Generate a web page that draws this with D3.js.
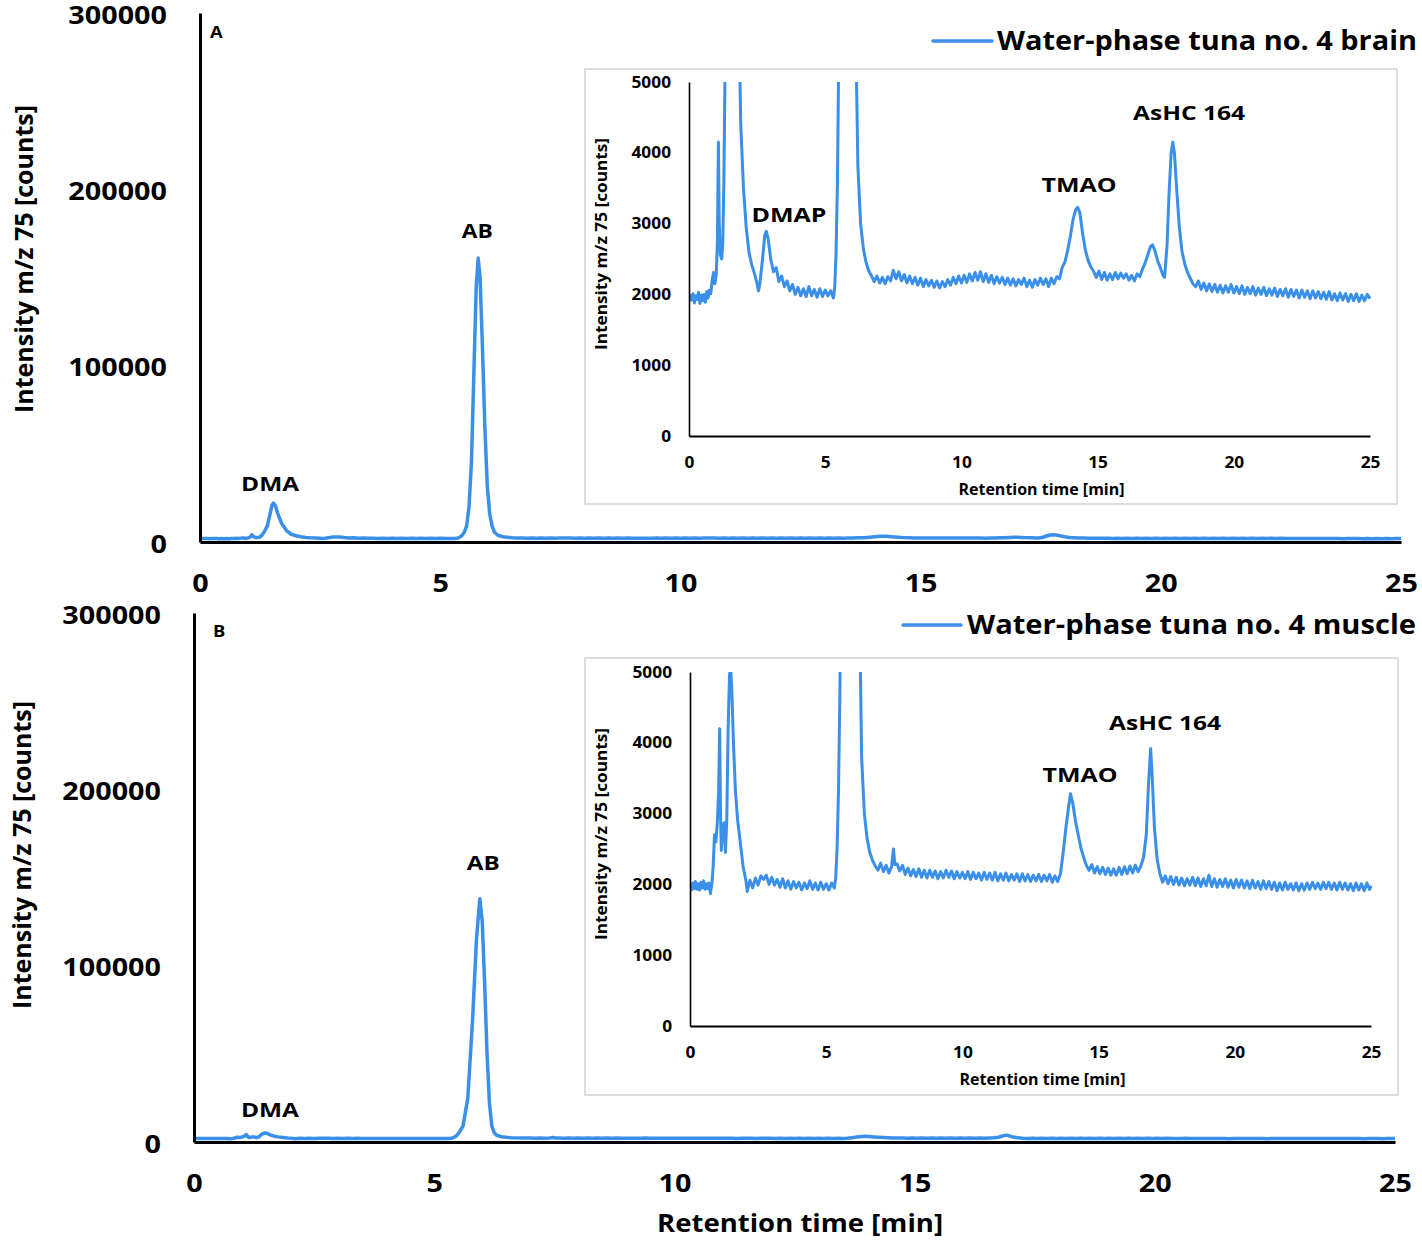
<!DOCTYPE html>
<html><head><meta charset="utf-8">
<script src="https://cdn.jsdelivr.net/npm/d3@7"></script>
<style>
body{margin:0;background:#fff}
svg{display:block}
text{font-family:'Open Sans',sans-serif;font-weight:700;fill:#000}
</style>
</head><body>
<svg id="chart" width="1422" height="1241"></svg>
<script>
// ---------- DATA (retention time [min], intensity m/z 75 [counts]) ----------
const brainTrace = [[0.00,1900],[0.05,1990],[0.10,1920],[0.15,2010],[0.20,1880],[0.25,1980],[0.30,1930],[0.35,2030],[0.40,1870],[0.45,1990],[0.50,1910],[0.55,2000],[0.60,1890],[0.65,2040],[0.70,1950],[0.75,2060],[0.80,2010],[0.85,2200],[0.90,2310],[0.95,2150],[1.00,2280],[1.04,2700],[1.08,4150],[1.11,3000],[1.15,2560],[1.20,2500],[1.24,2720],[1.28,3600],[1.33,5400],[1.40,9000],[1.45,15000],[1.50,21000],[1.53,22000],[1.57,20500],[1.62,16000],[1.70,10500],[1.80,6500],[1.90,4400],[2.00,3500],[2.10,2950],[2.20,2600],[2.30,2420],[2.40,2300],[2.50,2150],[2.55,2050],[2.60,2150],[2.70,2500],[2.78,2830],[2.84,2890],[2.90,2800],[3.00,2500],[3.10,2320],[3.20,2380],[3.30,2180],[3.40,2260],[3.50,2110],[3.60,2190],[3.70,2050],[3.80,2140],[3.90,2000],[4.00,2100],[4.10,1980],[4.20,2080],[4.30,1970],[4.40,2110],[4.50,1980],[4.60,2070],[4.70,1960],[4.80,2080],[4.90,1970],[5.00,2060],[5.10,1980],[5.20,2050],[5.30,1950],[5.35,2100],[5.40,2600],[5.45,3600],[5.50,5500],[5.55,9000],[5.60,20000],[5.65,45000],[5.70,95000],[5.75,145000],[5.79,161000],[5.83,150000],[5.88,110000],[5.93,65000],[5.98,32000],[6.03,16000],[6.08,9000],[6.13,5500],[6.20,3800],[6.30,3000],[6.40,2650],[6.50,2450],[6.60,2330],[6.70,2260],[6.80,2180],[6.90,2260],[7.00,2160],[7.10,2240],[7.20,2150],[7.30,2250],[7.40,2190],[7.50,2340],[7.60,2220],[7.70,2320],[7.80,2190],[7.90,2280],[8.00,2160],[8.10,2260],[8.20,2150],[8.30,2240],[8.40,2130],[8.50,2230],[8.60,2110],[8.70,2210],[8.80,2120],[8.90,2200],[9.00,2100],[9.10,2190],[9.20,2090],[9.30,2180],[9.40,2110],[9.50,2210],[9.60,2130],[9.70,2240],[9.80,2150],[9.90,2260],[10.00,2160],[10.10,2270],[10.20,2170],[10.30,2290],[10.40,2190],[10.50,2310],[10.60,2200],[10.70,2320],[10.80,2180],[10.90,2290],[11.00,2170],[11.10,2270],[11.20,2150],[11.30,2250],[11.40,2160],[11.50,2240],[11.60,2140],[11.70,2230],[11.80,2130],[11.90,2220],[12.00,2120],[12.10,2210],[12.20,2140],[12.30,2230],[12.40,2110],[12.50,2200],[12.60,2100],[12.70,2210],[12.80,2130],[12.90,2230],[13.00,2140],[13.10,2220],[13.20,2110],[13.30,2230],[13.40,2150],[13.50,2250],[13.60,2220],[13.70,2380],[13.80,2460],[13.90,2620],[14.00,2820],[14.10,3060],[14.20,3200],[14.27,3230],[14.35,3150],[14.45,2860],[14.55,2630],[14.65,2480],[14.75,2390],[14.85,2330],[14.95,2240],[15.05,2330],[15.15,2210],[15.25,2310],[15.35,2200],[15.45,2290],[15.55,2210],[15.65,2310],[15.75,2220],[15.85,2300],[15.95,2230],[16.05,2290],[16.15,2200],[16.25,2270],[16.35,2190],[16.45,2290],[16.55,2250],[16.65,2360],[16.75,2450],[16.85,2570],[16.95,2680],[17.02,2700],[17.10,2620],[17.20,2480],[17.30,2380],[17.40,2270],[17.46,2240],[17.55,2700],[17.62,3400],[17.70,4000],[17.76,4150],[17.82,4000],[17.90,3500],[18.00,2950],[18.10,2600],[18.20,2430],[18.30,2310],[18.40,2230],[18.50,2150],[18.60,2110],[18.70,2190],[18.80,2070],[18.90,2160],[19.00,2050],[19.10,2150],[19.20,2040],[19.30,2140],[19.40,2030],[19.50,2130],[19.60,2020],[19.70,2120],[19.80,2030],[19.90,2140],[20.00,2020],[20.10,2110],[20.20,2010],[20.30,2120],[20.40,2000],[20.50,2100],[20.60,2010],[20.70,2110],[20.80,1990],[20.90,2090],[21.00,2000],[21.10,2100],[21.20,1980],[21.30,2080],[21.40,1990],[21.50,2090],[21.60,1970],[21.70,2070],[21.80,1980],[21.90,2080],[22.00,1960],[22.10,2070],[22.20,1970],[22.30,2060],[22.40,1950],[22.50,2060],[22.60,1960],[22.70,2050],[22.80,1940],[22.90,2050],[23.00,1950],[23.10,2040],[23.20,1940],[23.30,2030],[23.40,1930],[23.50,2040],[23.60,1920],[23.70,2010],[23.80,1910],[23.90,2020],[24.00,1920],[24.10,2010],[24.20,1900],[24.30,2000],[24.40,1910],[24.50,2010],[24.60,1900],[24.70,1990],[24.80,1910],[24.90,2000],[25.00,1940]];

const muscleTrace = [[0.00,1980],[0.05,1920],[0.10,2020],[0.15,1940],[0.20,2040],[0.25,1930],[0.30,2010],[0.35,1920],[0.40,2030],[0.45,1950],[0.50,2050],[0.55,1930],[0.60,2010],[0.65,1940],[0.70,2020],[0.75,1870],[0.80,2000],[0.85,2250],[0.90,2700],[0.95,2600],[1.00,2850],[1.05,3300],[1.09,4200],[1.12,3000],[1.15,2480],[1.20,2800],[1.25,2870],[1.30,2450],[1.35,2900],[1.40,4200],[1.45,4950],[1.49,5080],[1.53,4800],[1.60,3950],[1.67,3300],[1.75,2900],[1.85,2580],[1.95,2250],[2.05,2060],[2.10,1900],[2.20,2060],[2.30,1950],[2.40,2090],[2.50,1990],[2.60,2120],[2.70,2070],[2.80,2130],[2.90,2000],[3.00,2100],[3.10,1990],[3.20,2070],[3.30,1960],[3.40,2080],[3.50,1950],[3.60,2050],[3.70,1930],[3.80,2040],[3.90,1950],[4.00,2030],[4.10,1920],[4.20,2020],[4.30,1940],[4.40,2050],[4.50,1930],[4.60,2020],[4.70,1920],[4.80,2030],[4.90,1930],[5.00,2010],[5.10,1920],[5.20,2020],[5.30,1950],[5.35,2100],[5.40,2500],[5.45,3300],[5.50,4600],[5.60,9000],[5.70,25000],[5.80,70000],[5.88,115000],[5.95,138000],[6.00,125000],[6.05,90000],[6.10,50000],[6.15,22000],[6.20,9000],[6.25,5200],[6.30,3800],[6.40,3000],[6.50,2650],[6.60,2450],[6.70,2340],[6.80,2260],[6.90,2200],[7.00,2300],[7.10,2180],[7.20,2270],[7.30,2160],[7.40,2250],[7.47,2500],[7.52,2280],[7.60,2290],[7.70,2190],[7.80,2270],[7.90,2140],[8.00,2230],[8.10,2120],[8.20,2210],[8.30,2110],[8.40,2220],[8.50,2100],[8.60,2200],[8.70,2090],[8.80,2200],[8.90,2100],[9.00,2190],[9.10,2080],[9.20,2180],[9.30,2090],[9.40,2200],[9.50,2100],[9.60,2190],[9.70,2080],[9.80,2180],[9.90,2090],[10.00,2170],[10.10,2080],[10.20,2180],[10.30,2070],[10.40,2170],[10.50,2080],[10.60,2160],[10.70,2060],[10.80,2170],[10.90,2070],[11.00,2160],[11.10,2060],[11.20,2170],[11.30,2050],[11.40,2150],[11.50,2060],[11.60,2160],[11.70,2050],[11.80,2140],[11.90,2060],[12.00,2150],[12.10,2040],[12.20,2150],[12.30,2050],[12.40,2140],[12.50,2040],[12.60,2130],[12.70,2050],[12.80,2140],[12.90,2040],[13.00,2130],[13.10,2050],[13.20,2140],[13.30,2030],[13.40,2120],[13.50,2040],[13.60,2150],[13.70,2450],[13.80,2800],[13.90,3100],[13.97,3280],[14.05,3150],[14.15,2900],[14.25,2700],[14.35,2520],[14.45,2380],[14.55,2270],[14.65,2200],[14.75,2280],[14.85,2160],[14.95,2250],[15.05,2150],[15.15,2240],[15.25,2140],[15.35,2230],[15.45,2130],[15.55,2220],[15.65,2130],[15.75,2240],[15.85,2140],[15.95,2250],[16.05,2150],[16.15,2260],[16.25,2160],[16.35,2270],[16.45,2180],[16.55,2260],[16.65,2380],[16.75,2700],[16.83,3400],[16.91,3920],[16.97,3500],[17.05,2800],[17.15,2350],[17.25,2150],[17.35,2030],[17.45,2120],[17.55,2010],[17.65,2110],[17.75,2000],[17.85,2100],[17.95,1990],[18.05,2090],[18.15,1980],[18.25,2080],[18.35,1990],[18.45,2100],[18.55,1980],[18.65,2090],[18.75,1970],[18.85,2080],[18.95,1980],[19.05,2130],[19.15,1970],[19.25,2080],[19.35,1960],[19.45,2070],[19.55,1970],[19.65,2080],[19.75,1960],[19.85,2060],[19.95,1950],[20.05,2070],[20.15,1960],[20.25,2060],[20.35,1950],[20.45,2050],[20.55,1940],[20.65,2060],[20.75,1950],[20.85,2040],[20.95,1930],[21.05,2050],[21.15,1940],[21.25,2040],[21.35,1930],[21.45,2030],[21.55,1910],[21.65,2020],[21.75,1920],[21.85,2030],[21.95,1930],[22.05,2010],[22.15,1920],[22.25,2020],[22.35,1910],[22.45,2010],[22.55,1920],[22.65,2020],[22.75,1930],[22.85,2030],[22.95,1940],[23.05,2020],[23.15,1930],[23.25,2030],[23.35,1940],[23.45,2030],[23.55,1930],[23.65,2020],[23.75,1920],[23.85,2030],[23.95,1930],[24.05,2020],[24.15,1920],[24.25,2010],[24.35,1910],[24.45,2020],[24.55,1920],[24.65,2010],[24.75,1910],[24.85,2020],[24.95,1930],[25.00,1980]];

const timeTicks = [0, 5, 10, 15, 20, 25];
const mainCountTicks = [0, 100000, 200000, 300000];
const insetCountTicks = [0, 1000, 2000, 3000, 4000, 5000];
const legendLabels = ["Water-phase tuna no. 4 brain", "Water-phase tuna no. 4 muscle"];
const panelLetters = ["A", "B"];
// peak annotations: [label, time, counts] (anchor of label text)
const mainPeaksA = [["DMA", 1.46, 28900], ["AB", 5.77, 172400]];
const insetPeaksA = [["DMAP", 3.67, 3023], ["TMAO", 14.32, 3446], ["AsHC 164", 18.36, 4463]];
const mainPeaksB = [["DMA", 1.58, 14200], ["AB", 6.02, 154300]];
const insetPeaksB = [["TMAO", 14.32, 3446], ["AsHC 164", 17.44, 4181]];
const yTitle = "Intensity m/z 75 [counts]";
const xTitle = "Retention time [min]";

// ---------- LAYOUT ----------
const BLUE = "#3a8fe8";
const STRETCH = 1.15;
const svg = d3.select("#chart");

function label(g, x, y, s, size, anchor, width, rot) {
  const t = g.append("text")
    .attr("text-anchor", anchor)
    .style("font-size", size + "px")
    .text(s);
  if (rot) t.attr("transform", `translate(${x},${y}) rotate(-90)`);
  else t.attr("x", x).attr("y", y);
  const nat = t.node().getComputedTextLength();
  const w = width || nat * STRETCH;
  t.attr("textLength", w).attr("lengthAdjust", "spacingAndGlyphs");
  return t;
}
function stretchTicks(sel, factor) {
  sel.selectAll(".tick text").each(function () {
    const n = this.getComputedTextLength();
    d3.select(this).attr("textLength", n * factor).attr("lengthAdjust", "spacingAndGlyphs");
  });
}

const panels = [
  { trace: brainTrace, legend: legendLabels[0], letter: panelLetters[0],
    x0: 200, x1: 1401, yTop: 13, yBot: 542, yTitleX: 33, yTitleY: 259,
    legLine: [933, 992, 41], legText: [997, 50, 420], letterPos: [210, 38],
    inset: { box: [585, 69, 1397, 504], x0: 689, x1: 1370, yTop: 82, yBot: 436 },
    mainPeaks: mainPeaksA, insetPeaks: insetPeaksA, peakW: {"AB": 31, "DMA": 58, "DMAP": 75, "TMAO": 75, "AsHC 164": 112}, xTitle: false },
  { trace: muscleTrace, legend: legendLabels[1], letter: panelLetters[1],
    x0: 194, x1: 1395, yTop: 613, yBot: 1142, yTitleX: 31, yTitleY: 855,
    legLine: [903, 961, 625], legText: [967, 634, 449], letterPos: [213, 637],
    inset: { box: [585, 658, 1398, 1095], x0: 690, x1: 1371, yTop: 672, yBot: 1026 },
    mainPeaks: mainPeaksB, insetPeaks: insetPeaksB, peakW: {"AB": 33, "DMA": 58, "TMAO": 75, "AsHC 164": 112}, xTitle: true }
];

panels.forEach((p, i) => {
  const g = svg.append("g");
  const x = d3.scaleLinear().domain([0, 25]).range([p.x0, p.x1]);
  const y = d3.scaleLinear().domain([0, 300000]).range([p.yBot, p.yTop]);

  // main trace
  const line = d3.line().x(d => x(d[0])).y(d => y(d[1]));
  g.append("path").datum(p.trace).attr("d", line)
    .attr("fill", "none").attr("stroke", BLUE).attr("stroke-width", 3.5)
    .attr("stroke-linejoin", "round");

  // main axes
  const ya = g.append("g").attr("transform", `translate(${p.x0},0)`)
    .call(d3.axisLeft(y).tickValues(mainCountTicks).tickSize(0).tickSizeOuter(0).tickPadding(33).tickFormat(d3.format("d")));
  ya.select(".domain").attr("stroke", "#000").attr("stroke-width", 3);
  ya.selectAll(".tick text").attr("dy", "0.4em").style("font-size", "25px").style("font-family", "'Open Sans',sans-serif").style("font-weight", 700).attr("fill", "#000");
  stretchTicks(ya, STRETCH);

  const xa = g.append("g").attr("transform", `translate(0,${p.yBot})`)
    .call(d3.axisBottom(x).tickValues(timeTicks).tickSize(0).tickSizeOuter(0).tickPadding(32));
  xa.select(".domain").attr("stroke", "#000").attr("stroke-width", 3);
  xa.selectAll(".tick text").style("font-size", "25px").style("font-family", "'Open Sans',sans-serif").style("font-weight", 700).attr("fill", "#000");
  stretchTicks(xa, STRETCH);

  // axis titles
  label(g, p.yTitleX, p.yTitleY, yTitle, 25, "middle", 308, true);
  if (p.xTitle) label(g, 800, p.yBot + 90, xTitle, 25, "middle", 286);
  // panel letter
  label(g, p.letterPos[0], p.letterPos[1], p.letter, 16, "start");

  // peak labels (main)
  p.mainPeaks.forEach(([s, t, v]) => label(g, x(t), y(v), s, 20, "middle", p.peakW[s]));

  // legend
  g.append("line").attr("x1", p.legLine[0]).attr("x2", p.legLine[1])
    .attr("y1", p.legLine[2]).attr("y2", p.legLine[2])
    .attr("stroke", BLUE).attr("stroke-width", 3.5).attr("stroke-linecap", "round");
  label(g, p.legText[0], p.legText[1], p.legend, 26, "start", p.legText[2]);

  // ---------- inset ----------
  const ins = p.inset;
  const gi = g.append("g");
  gi.append("rect").attr("x", ins.box[0]).attr("y", ins.box[1])
    .attr("width", ins.box[2] - ins.box[0]).attr("height", ins.box[3] - ins.box[1])
    .attr("fill", "#fff").attr("stroke", "#cfd3d6").attr("stroke-width", 1.5);
  const xi = d3.scaleLinear().domain([0, 25]).range([ins.x0, ins.x1]);
  const yi = d3.scaleLinear().domain([0, 5000]).range([ins.yBot, ins.yTop]);
  const clipId = "clip" + i;
  svg.append("defs").append("clipPath").attr("id", clipId).append("rect")
    .attr("x", ins.x0).attr("y", ins.yTop).attr("width", ins.x1 - ins.x0 + 2).attr("height", ins.yBot - ins.yTop);
  const li = d3.line().x(d => xi(d[0])).y(d => yi(d[1]));
  gi.append("path").datum(p.trace).attr("d", li).attr("clip-path", `url(#${clipId})`)
    .attr("fill", "none").attr("stroke", BLUE).attr("stroke-width", 3).attr("stroke-linejoin", "round");

  const yia = gi.append("g").attr("transform", `translate(${ins.x0},0)`)
    .call(d3.axisLeft(yi).tickValues(insetCountTicks).tickSize(0).tickSizeOuter(0).tickPadding(18).tickFormat(d3.format("d")));
  yia.select(".domain").attr("stroke", "#000").attr("stroke-width", 1.6);
  yia.selectAll(".tick text").style("font-size", "16px").style("font-family", "'Open Sans',sans-serif").style("font-weight", 700).attr("fill", "#000");
  stretchTicks(yia, 1.08);

  const xia = gi.append("g").attr("transform", `translate(0,${ins.yBot})`)
    .call(d3.axisBottom(xi).tickValues(timeTicks).tickSize(0).tickSizeOuter(0).tickPadding(21));
  xia.select(".domain").attr("stroke", "#000").attr("stroke-width", 2);
  xia.selectAll(".tick text").style("font-size", "16px").style("font-family", "'Open Sans',sans-serif").style("font-weight", 700).attr("fill", "#000");
  stretchTicks(xia, 1.08);

  label(gi, (ins.x0 + ins.x1) / 2 + 12, ins.yBot + 59, xTitle, 16, "middle", 166);
  label(gi, 607, (ins.yTop + ins.yBot) / 2 - 15, yTitle, 16, "middle", 212, true);

  p.insetPeaks.forEach(([s, t, v]) => label(gi, xi(t), yi(v), s, 20, "middle", p.peakW[s]));
});
</script>
</body></html>
